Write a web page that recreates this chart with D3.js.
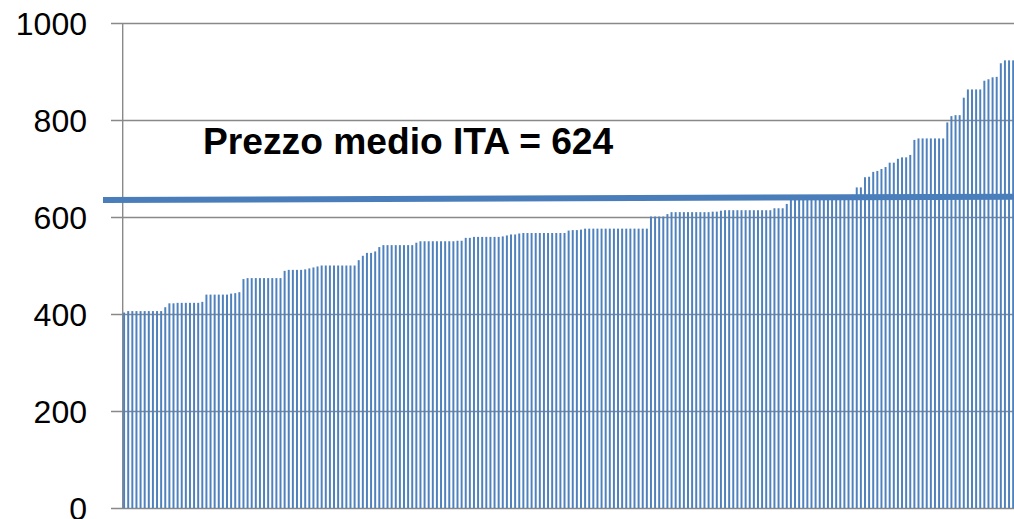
<!DOCTYPE html>
<html>
<head>
<meta charset="utf-8">
<script src="https://cdn.jsdelivr.net/npm/d3@7"></script>
<style>
  html, body { margin: 0; padding: 0; background: #ffffff; }
  svg { display: block; }
</style>
</head>
<body>
<svg id="chart" width="1014" height="519"></svg>
<script>
// Prices per point of sale, sorted ascending (EUR)
const prices = [
  403,406,406,406,406,406,406,406,406,406,414,422,422,423,423,423,423,423,423,425,440,440,440,440,440,440,442,443,445,472,
  474,474,474,474,474,474,474,474,474,489,491,491,491,491,492,494,496,498,500,500,500,500,500,500,500,500,500,511,520,526,
  526,529,538,542,542,542,542,542,542,542,542,547,550,550,550,550,550,550,550,550,550,551,551,557,557,559,559,559,559,559,
  559,559,560,562,564,564,566,567,567,567,567,567,567,567,567,567,567,567,572,573,573,574,576,576,576,576,576,576,576,576,
  576,576,576,576,576,576,576,576,601,601,601,601,606,610,610,610,610,610,610,610,610,610,610,611,611,613,614,614,614,614,
  614,614,614,614,614,614,614,614,618,618,618,627,636,636,637,638,638,639,640,640,641,642,642,643,644,645,645,646,661,661,
  682,683,693,695,699,703,712,712,720,723,723,728,759,762,762,762,762,762,762,762,795,808,810,810,846,863,863,863,863,881,
  884,888,889,917,923,923,923,923
];
const yTicks = [0, 200, 400, 600, 800, 1000];
const avgLabel = "Prezzo medio ITA = 624";
// Hand-drawn average marker: value at its left and right ends
const avgLineEnds = [635, 642];

(function draw() {
  const svg = d3.select("#chart");
  const W = 1014;
  const plotLeft = 122.7, plotTop = 23, plotBottom = 508;
  const pitch = 4.11;

  const x = d3.scaleBand()
    .domain(d3.range(prices.length))
    .range([plotLeft, plotLeft + prices.length * pitch])
    .paddingInner(0.52)
    .paddingOuter(0.1);

  const y = d3.scaleLinear().domain([0, 1000]).range([plotBottom, plotTop]);

  // Horizontal gridlines with outward tick marks
  const yAxis = d3.axisLeft(y)
    .tickValues(yTicks)
    .tickSize(-(W - plotLeft))
    .tickSizeOuter(0)
    .tickFormat("");
  const gGrid = svg.append("g")
    .attr("transform", `translate(${plotLeft},0)`)
    .call(yAxis);
  gGrid.select(".domain").remove();
  gGrid.selectAll(".tick line")
    .attr("x1", -11.7)
    .attr("stroke", "#898989")
    .attr("stroke-width", 1.4);

  // Vertical axis line
  svg.append("line")
    .attr("x1", plotLeft).attr("x2", plotLeft)
    .attr("y1", y(1000)).attr("y2", y(0))
    .attr("stroke", "#898989")
    .attr("stroke-width", 1.4);

  // Tick labels
  svg.append("g").selectAll("text")
    .data(yTicks)
    .join("text")
    .attr("x", 87)
    .attr("y", d => y(d))
    .attr("dy", "0.36em")
    .attr("text-anchor", "end")
    .attr("font-family", "'Liberation Sans', Arial, sans-serif")
    .attr("font-size", 32)
    .attr("fill", "#000")
    .text(d => d);

  // Price bars
  svg.append("g").selectAll("rect")
    .data(prices)
    .join("rect")
    .attr("x", (d, i) => x(i))
    .attr("width", x.bandwidth())
    .attr("y", d => y(d))
    .attr("height", d => y(0) - y(d))
    .attr("fill", "#4f81bd");

  // Average marker line
  svg.append("line")
    .attr("x1", 103).attr("x2", W)
    .attr("y1", y(avgLineEnds[0])).attr("y2", y(avgLineEnds[1]))
    .attr("stroke", "#4a7ebb")
    .attr("stroke-width", 6);

  // Average label
  svg.append("text")
    .attr("x", 203)
    .attr("y", 154)
    .attr("font-family", "'Liberation Sans', Arial, sans-serif")
    .attr("font-weight", "bold")
    .attr("font-size", 37.2)
    .attr("fill", "#000")
    .text(avgLabel);
})();
</script>
</body>
</html>
